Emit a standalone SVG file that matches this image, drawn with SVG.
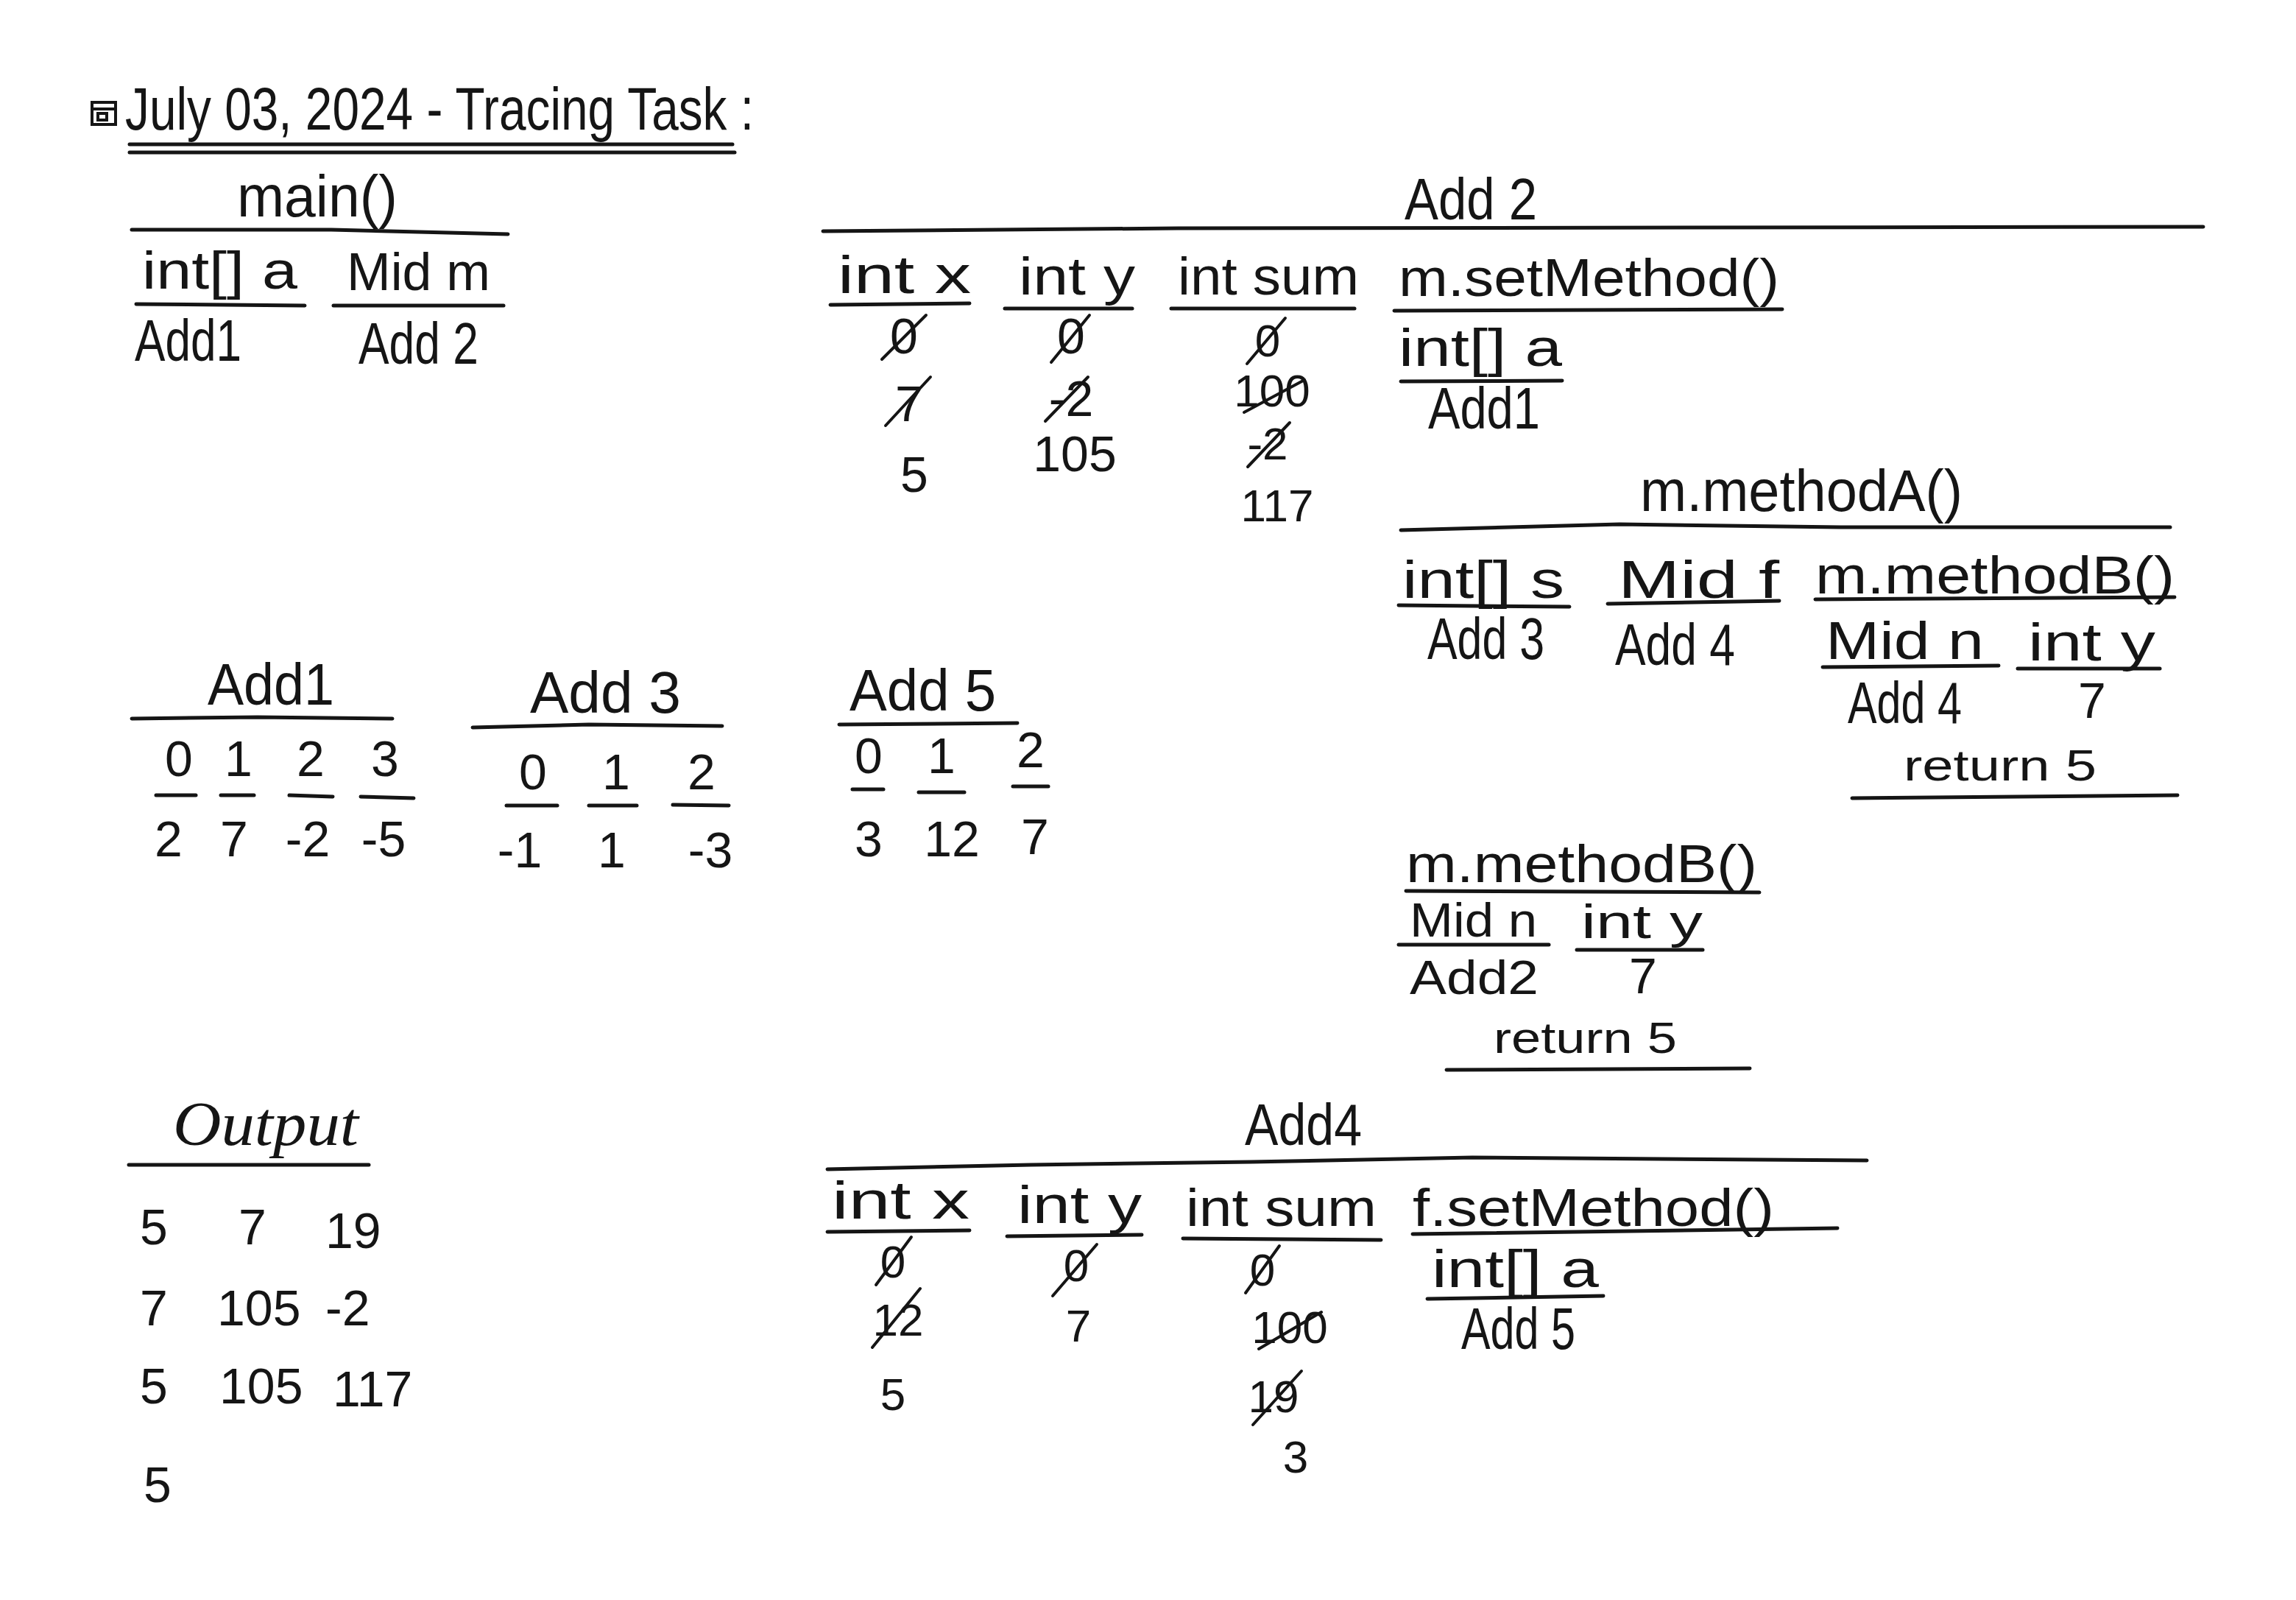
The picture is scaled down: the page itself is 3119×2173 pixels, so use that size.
<svg xmlns="http://www.w3.org/2000/svg" width="3119" height="2173" viewBox="0 0 3119 2173">
<style>
text{font-family:"Liberation Sans",Arial,sans-serif;fill:#151515}
.ti{font-size:82px}
.h{font-size:80px}
.l{font-size:72px}
.lm{font-size:64px}
.n{font-size:68px}
.ns{font-size:62px}
.r{font-size:60px}
.c{text-anchor:middle}
.o{font-family:"Liberation Serif","Times New Roman",serif;font-style:italic;font-size:84px}
.ln{stroke:#151515;stroke-width:5;stroke-linecap:round;fill:none}
.st{stroke:#151515;stroke-width:4;stroke-linecap:round;fill:none}
</style>
<rect width="3119" height="2173" fill="#ffffff"/>

<g id="title">
<rect x="125" y="139" width="32" height="30" class="st" stroke-width="3"/>
<line x1="125" y1="148" x2="157" y2="148" class="st" stroke-width="3"/>
<rect x="133" y="154" width="12" height="9" class="st" stroke-width="3"/>
<text class="ti" x="170" y="176" textLength="854" lengthAdjust="spacingAndGlyphs">July 03, 2024 - Tracing Task :</text>
<line x1="176" y1="196" x2="995" y2="196" class="ln"/>
<line x1="176" y1="207" x2="998" y2="207" class="ln"/>
</g>

<g id="main">
<text class="h" x="322" y="294" textLength="218" lengthAdjust="spacingAndGlyphs">main()</text>
<path d="M179 312 L450 312 L690 318" class="ln"/>
<text class="l" x="193" y="392" textLength="211" lengthAdjust="spacingAndGlyphs">int[] a</text>
<text class="l" x="471" y="394" textLength="195" lengthAdjust="spacingAndGlyphs">Mid m</text>
<line x1="185" y1="413" x2="414" y2="415" class="ln"/>
<line x1="453" y1="415" x2="684" y2="415" class="ln"/>
<text class="h" x="183" y="490" textLength="145" lengthAdjust="spacingAndGlyphs">Add1</text>
<text class="h" x="487" y="494" textLength="163" lengthAdjust="spacingAndGlyphs">Add 2</text>
</g>

<g id="add2">
<text class="h" x="1908" y="298" textLength="180" lengthAdjust="spacingAndGlyphs">Add 2</text>
<path d="M1118 314 L1600 310 L2993 308" class="ln"/>
<text class="l" x="1138" y="398" textLength="181" lengthAdjust="spacingAndGlyphs">int x</text>
<text class="l" x="1384" y="400" textLength="158" lengthAdjust="spacingAndGlyphs">int y</text>
<text class="l" x="1600" y="400" textLength="246" lengthAdjust="spacingAndGlyphs">int sum</text>
<text class="l" x="1900" y="402" textLength="517" lengthAdjust="spacingAndGlyphs">m.setMethod()</text>
<line x1="1128" y1="414" x2="1317" y2="412" class="ln"/>
<line x1="1365" y1="419" x2="1538" y2="419" class="ln"/>
<line x1="1591" y1="419" x2="1840" y2="419" class="ln"/>
<line x1="1894" y1="422" x2="2421" y2="420" class="ln"/>

<text class="n c" x="1228" y="480">0</text>
<line x1="1198" y1="488" x2="1258" y2="428" class="st"/>
<text class="n c" x="1235" y="572">7</text>
<line x1="1203" y1="578" x2="1264" y2="512" class="st"/>
<text class="n c" x="1242" y="668">5</text>

<text class="n c" x="1455" y="480">0</text>
<line x1="1428" y1="492" x2="1480" y2="428" class="st"/>
<text class="n c" x="1455" y="565">-2</text>
<line x1="1420" y1="572" x2="1478" y2="512" class="st"/>
<text class="n c" x="1460" y="640">105</text>

<text class="ns c" x="1722" y="484">0</text>
<line x1="1694" y1="494" x2="1746" y2="432" class="st"/>
<text class="ns c" x="1728" y="552">100</text>
<line x1="1690" y1="560" x2="1772" y2="516" class="st"/>
<text class="ns c" x="1722" y="624">-2</text>
<line x1="1695" y1="634" x2="1752" y2="574" class="st"/>
<text class="ns c" x="1735" y="708">117</text>

<text class="l" x="1900" y="497" textLength="222" lengthAdjust="spacingAndGlyphs">int[] a</text>
<line x1="1903" y1="518" x2="2122" y2="517" class="ln"/>
<text class="h" x="1940" y="582" textLength="152" lengthAdjust="spacingAndGlyphs">Add1</text>
</g>

<g id="methodA">
<text class="h" x="2228" y="694" textLength="438" lengthAdjust="spacingAndGlyphs">m.methodA()</text>
<path d="M1903 720 L2200 712 L2500 716 L2948 716" class="ln"/>
<text class="l" x="1905" y="812" textLength="220" lengthAdjust="spacingAndGlyphs">int[] s</text>
<line x1="1900" y1="822" x2="2132" y2="824" class="ln"/>
<text class="l" x="2198" y="812" textLength="219" lengthAdjust="spacingAndGlyphs">Mid f</text>
<line x1="2184" y1="820" x2="2417" y2="816" class="ln"/>
<text class="l" x="2466" y="806" textLength="488" lengthAdjust="spacingAndGlyphs">m.methodB()</text>
<line x1="2466" y1="814" x2="2954" y2="811" class="ln"/>
<text class="h" x="1939" y="895" textLength="159" lengthAdjust="spacingAndGlyphs">Add 3</text>
<text class="h" x="2194" y="903" textLength="163" lengthAdjust="spacingAndGlyphs">Add 4</text>
<text class="l" x="2480" y="895" textLength="215" lengthAdjust="spacingAndGlyphs">Mid n</text>
<line x1="2476" y1="906" x2="2715" y2="904" class="ln"/>
<text class="l" x="2755" y="897" textLength="173" lengthAdjust="spacingAndGlyphs">int y</text>
<line x1="2741" y1="908" x2="2934" y2="908" class="ln"/>
<text class="h" x="2510" y="982" textLength="155" lengthAdjust="spacingAndGlyphs">Add 4</text>
<text class="n c" x="2842" y="975">7</text>
<text class="r" x="2586" y="1060" textLength="262" lengthAdjust="spacingAndGlyphs">return 5</text>
<line x1="2516" y1="1084" x2="2958" y2="1080" class="ln"/>
</g>

<g id="methodB">
<text class="l" x="1910" y="1198" textLength="477" lengthAdjust="spacingAndGlyphs">m.methodB()</text>
<line x1="1910" y1="1210" x2="2390" y2="1212" class="ln"/>
<text class="lm" x="1915" y="1272" textLength="173" lengthAdjust="spacingAndGlyphs">Mid n</text>
<line x1="1900" y1="1283" x2="2104" y2="1283" class="ln"/>
<text class="lm" x="2148" y="1274" textLength="165" lengthAdjust="spacingAndGlyphs">int y</text>
<line x1="2142" y1="1290" x2="2313" y2="1290" class="ln"/>
<text class="lm" x="1915" y="1350" textLength="175" lengthAdjust="spacingAndGlyphs">Add2</text>
<text class="n c" x="2232" y="1349">7</text>
<text class="r" x="2029" y="1430" textLength="249" lengthAdjust="spacingAndGlyphs">return 5</text>
<line x1="1965" y1="1453" x2="2377" y2="1451" class="ln"/>
</g>

<g id="add1">
<text class="h" x="282" y="957" textLength="172" lengthAdjust="spacingAndGlyphs">Add1</text>
<path d="M179 976 L350 974 L533 976" class="ln"/>
<text class="n c" x="243" y="1054">0</text>
<text class="n c" x="324" y="1054">1</text>
<text class="n c" x="422" y="1054">2</text>
<text class="n c" x="523" y="1054">3</text>
<line x1="212" y1="1080" x2="266" y2="1080" class="ln"/>
<line x1="300" y1="1080" x2="345" y2="1080" class="ln"/>
<line x1="393" y1="1080" x2="452" y2="1082" class="ln"/>
<line x1="490" y1="1082" x2="562" y2="1084" class="ln"/>
<text class="n c" x="229" y="1163">2</text>
<text class="n c" x="318" y="1163">7</text>
<text class="n c" x="418" y="1163">-2</text>
<text class="n c" x="521" y="1163">-5</text>
</g>

<g id="add3">
<text class="h" x="720" y="968" textLength="205" lengthAdjust="spacingAndGlyphs">Add 3</text>
<path d="M642 988 L800 984 L981 986" class="ln"/>
<text class="n c" x="724" y="1072">0</text>
<text class="n c" x="837" y="1072">1</text>
<text class="n c" x="953" y="1072">2</text>
<line x1="688" y1="1094" x2="757" y2="1094" class="ln"/>
<line x1="800" y1="1094" x2="865" y2="1094" class="ln"/>
<line x1="914" y1="1093" x2="990" y2="1094" class="ln"/>
<text class="n c" x="706" y="1178">-1</text>
<text class="n c" x="831" y="1178">1</text>
<text class="n c" x="965" y="1178">-3</text>
</g>

<g id="add5">
<text class="h" x="1154" y="965" textLength="199" lengthAdjust="spacingAndGlyphs">Add 5</text>
<line x1="1140" y1="984" x2="1382" y2="982" class="ln"/>
<text class="n c" x="1180" y="1050">0</text>
<text class="n c" x="1279" y="1050">1</text>
<text class="n c" x="1400" y="1042">2</text>
<line x1="1158" y1="1072" x2="1200" y2="1072" class="ln"/>
<line x1="1248" y1="1076" x2="1310" y2="1076" class="ln"/>
<line x1="1376" y1="1068" x2="1424" y2="1068" class="ln"/>
<text class="n c" x="1180" y="1163">3</text>
<text class="n c" x="1293" y="1163">12</text>
<text class="n c" x="1406" y="1160">7</text>
</g>

<g id="output">
<text class="o" x="235" y="1555" textLength="252" lengthAdjust="spacingAndGlyphs">Output</text>
<line x1="175" y1="1582" x2="501" y2="1582" class="ln"/>
<text class="n" x="190" y="1690">5</text>
<text class="n c" x="343" y="1690">7</text>
<text class="n" x="442" y="1695">19</text>
<text class="n" x="190" y="1800">7</text>
<text class="n" x="295" y="1800">105</text>
<text class="n" x="442" y="1800">-2</text>
<text class="n" x="190" y="1906">5</text>
<text class="n" x="298" y="1906">105</text>
<text class="n" x="452" y="1910">117</text>
<text class="n" x="195" y="2040">5</text>
</g>

<g id="add4">
<text class="h" x="1691" y="1555" textLength="159" lengthAdjust="spacingAndGlyphs">Add4</text>
<path d="M1124 1588 L1400 1582 L1700 1578 L2000 1572 L2536 1576" class="ln"/>
<text class="l" x="1130" y="1655" textLength="187" lengthAdjust="spacingAndGlyphs">int x</text>
<line x1="1124" y1="1673" x2="1317" y2="1671" class="ln"/>
<text class="l" x="1382" y="1661" textLength="169" lengthAdjust="spacingAndGlyphs">int y</text>
<line x1="1368" y1="1679" x2="1551" y2="1677" class="ln"/>
<text class="l" x="1611" y="1665" textLength="259" lengthAdjust="spacingAndGlyphs">int sum</text>
<line x1="1607" y1="1682" x2="1876" y2="1684" class="ln"/>
<text class="l" x="1919" y="1665" textLength="491" lengthAdjust="spacingAndGlyphs">f.setMethod()</text>
<line x1="1919" y1="1676" x2="2496" y2="1668" class="ln"/>

<text class="ns c" x="1213" y="1735">0</text>
<line x1="1190" y1="1745" x2="1238" y2="1680" class="st"/>
<text class="ns c" x="1220" y="1814">12</text>
<line x1="1185" y1="1830" x2="1250" y2="1750" class="st"/>
<text class="ns c" x="1213" y="1915">5</text>

<text class="ns c" x="1462" y="1740">0</text>
<line x1="1430" y1="1760" x2="1490" y2="1690" class="st"/>
<text class="ns c" x="1465" y="1822">7</text>

<text class="ns c" x="1715" y="1746">0</text>
<line x1="1692" y1="1756" x2="1738" y2="1692" class="st"/>
<text class="ns c" x="1752" y="1824">100</text>
<line x1="1710" y1="1832" x2="1795" y2="1782" class="st"/>
<text class="ns c" x="1730" y="1918">19</text>
<line x1="1702" y1="1935" x2="1768" y2="1862" class="st"/>
<text class="ns c" x="1760" y="2000">3</text>

<text class="l" x="1945" y="1748" textLength="227" lengthAdjust="spacingAndGlyphs">int[] a</text>
<line x1="1939" y1="1764" x2="2178" y2="1760" class="ln"/>
<text class="h" x="1985" y="1832" textLength="155" lengthAdjust="spacingAndGlyphs">Add 5</text>
</g>
</svg>
